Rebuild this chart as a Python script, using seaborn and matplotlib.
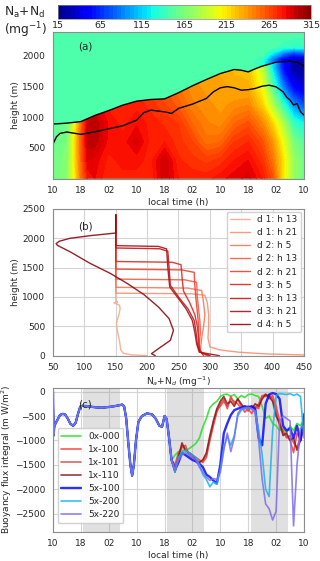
import numpy as np
import matplotlib
matplotlib.use("Agg")
import matplotlib.pyplot as plt
from matplotlib.patches import Polygon
import seaborn as sns

# ---------------- panel (a): Na+Nd field (mg-1) ----------------
# boundary-layer values, rows = bl_heights, columns = bl_hours (hours since 10 LT day 1)
bl_hours = [0, 4, 6, 8, 10, 12, 16, 20, 24, 28, 32, 36, 40, 44, 48, 52, 56, 60, 63, 66, 69, 72]
bl_heights = [0, 300, 600, 900, 1200, 1500, 1800, 2100]
bl_conc = [
    [160, 170, 205, 250, 280, 285, 275, 278, 278, 275, 295, 280, 278, 278, 283, 288, 292, 280, 262, 215, 175, 160],
    [160, 168, 210, 255, 290, 288, 278, 282, 282, 278, 295, 276, 272, 268, 272, 280, 285, 272, 250, 215, 175, 160],
    [158, 165, 210, 258, 298, 298, 283, 282, 292, 278, 280, 272, 265, 252, 255, 270, 275, 262, 240, 205, 165, 150],
    [155, 160, 200, 252, 295, 300, 284, 278, 284, 278, 274, 270, 255, 246, 242, 255, 262, 245, 220, 185, 140, 125],
    [150, 155, 190, 245, 285, 290, 278, 278, 278, 273, 265, 258, 246, 242, 238, 242, 245, 222, 185, 140, 95, 75],
    [150, 150, 180, 235, 278, 280, 274, 274, 274, 270, 260, 250, 242, 238, 237, 233, 232, 205, 150, 90, 50, 40],
    [150, 150, 170, 225, 268, 272, 266, 266, 266, 262, 252, 246, 238, 236, 233, 228, 226, 190, 120, 55, 25, 22],
    [150, 150, 170, 225, 268, 272, 266, 266, 266, 262, 252, 246, 238, 236, 233, 228, 226, 190, 120, 60, 35, 30],
]

# free troposphere values (above the inversion)
ft_hours = [0, 56, 60, 63, 66, 69, 72]
ft_heights = [0, 1700, 1850, 1950, 2050, 2150, 2400]
ft_conc = [
    [150, 150, 150, 150, 150, 150, 150],
    [150, 150, 135, 85, 45, 30, 30],
    [150, 150, 135, 85, 45, 30, 30],
    [150, 150, 140, 90, 50, 35, 35],
    [150, 150, 148, 125, 95, 75, 85],
    [150, 150, 150, 148, 142, 138, 138],
    [150, 150, 150, 150, 150, 150, 150],
]

# cloud top and cloud base lines (m)
top_hours = [0, 4, 8, 12, 16, 20, 24, 28, 32, 36, 40, 44, 48, 52, 54, 56, 58, 60, 64, 68, 70, 72]
top_height = [890, 905, 930, 1030, 1110, 1198, 1263, 1290, 1300, 1400, 1513, 1616, 1713, 1779,
              1767, 1740, 1790, 1833, 1898, 1914, 1897, 1843]
base_hours = [0, 1, 2, 4, 8, 12, 16, 20, 24, 26, 28, 32, 34, 36, 40, 44, 46, 48, 50, 52, 54,
              56, 58, 60, 62, 64, 66, 67, 68, 69, 70, 71, 72]
base_height = [564, 683, 738, 760, 722, 764, 813, 862, 954, 1073, 1117, 1089, 1063, 1145, 1215,
               1307, 1415, 1480, 1500, 1480, 1442, 1450, 1470, 1507, 1523, 1496, 1415, 1330,
               1280, 1200, 1225, 1090, 1036]

time_ticks = [0, 8, 16, 24, 32, 40, 48, 56, 64, 72]
time_labels = ["10", "18", "02", "10", "18", "02", "10", "18", "02", "10"]
cbar_ticks = [15, 65, 115, 165, 215, 265, 315]

# ---------------- panel (b): profiles (value, height) ----------------
profile_labels = ["d 1: h 13", "d 1: h 21", "d 2: h 5", "d 2: h 13", "d 2: h 21",
                  "d 3: h 5", "d 3: h 13", "d 3: h 21", "d 4: h 5"]
d1h13_val = [150, 150, 153, 147, 156, 157, 155, 151, 153, 156, 158, 162, 175, 200]
d1h13_z = [2400, 925, 915, 900, 860, 800, 700, 550, 400, 250, 100, 40, 15, 0]
d1h21_val = [150, 150, 270, 292, 296, 298, 298, 297, 300, 315, 345, 390, 450, 470]
d1h21_z = [2400, 1065, 1055, 1030, 900, 700, 500, 300, 150, 100, 60, 30, 12, 0]
d2h5_val = [150, 150, 265, 287, 290, 292, 290, 287, 285, 288, 300]
d2h5_z = [2400, 1165, 1152, 1110, 900, 700, 500, 300, 100, 40, 0]
d2h13_val = [150, 150, 260, 279, 280, 282, 284, 285, 283, 285, 295]
d2h13_z = [2400, 1305, 1292, 1250, 1000, 800, 600, 400, 200, 60, 0]
d2h21_val = [150, 150, 255, 275, 276, 278, 280, 282, 282, 285, 300]
d2h21_z = [2400, 1475, 1462, 1420, 1200, 950, 750, 500, 250, 60, 0]
d3h5_val = [150, 150, 240, 254, 256, 258, 268, 276, 280, 282, 283, 290]
d3h5_z = [2400, 1605, 1592, 1550, 1300, 1100, 900, 700, 500, 300, 100, 0]
d3h13_val = [150, 150, 220, 233, 235, 237, 250, 265, 275, 278, 280, 285, 300]
d3h13_z = [2400, 1835, 1822, 1780, 1500, 1200, 1000, 800, 600, 400, 200, 60, 0]
d3h21_val = [150, 150, 218, 231, 233, 236, 248, 262, 272, 276, 279, 283, 315]
d3h21_z = [2400, 1875, 1862, 1820, 1500, 1170, 1000, 800, 600, 400, 200, 60, 0]
d4h5_val = [150, 150, 109, 77, 60, 55, 57, 77, 109, 141, 168, 195, 218, 235, 242, 237, 218, 207, 213]
d4h5_z = [2400, 2090, 2045, 2000, 1950, 1910, 1880, 1772, 1574, 1404, 1233, 1040, 830, 631, 432,
          261, 119, 34, 0]

# ---------------- panel (c): buoyancy flux integral (m W/m2) ----------------
early_hours = [0, 0.15, 0.4, 1, 2, 2.8, 3.5, 4.3, 5, 5.8, 6.5, 7.2, 7.8, 8.5, 10, 12, 14, 16, 17.5,
               19, 19.8, 20.4, 21, 21.6, 22.2, 22.7, 23.2, 23.8, 24.5, 25.5, 27, 28.5, 29.5, 30.5,
               31.3, 32, 32.6, 33.3, 34]
early_flux = [0, -900, -700, -615, -480, -455, -470, -560, -660, -700, -640, -450, -310, -290, -300,
              -320, -330, -315, -300, -280, -265, -300, -550, -1050, -1500, -1720, -1500, -1000,
              -620, -500, -445, -470, -560, -700, -720, -500, -560, -950, -1400]
late_hours = list(range(35, 73))
flux_0x000 = [-1300, -1230, -1200, -1200, -1170, -1120, -1060, -950, -720, -550, -330, -250, -200,
              -100, -60, -50, -100, -60, -150, -80, -120, -60, -50, -80, -100, -300, -550, -500,
              -650, -700, -800, -750, -850, -700, -800, -650, -700, -550]
flux_1x100 = [-1550, -1300, -1100, -1200, -1250, -1300, -1350, -1400, -1450, -1350, -1000, -700,
              -420, -250, -150, -350, -100, -250, -150, -300, -420, -350, -450, -300, -350, -100,
              -50, -150, -80, -300, -600, -850, -900, -1000, -1250, -850, -1000, -500]
flux_1x101 = [-1500, -1250, -1150, -1100, -1300, -1350, -1400, -1450, -1400, -1300, -950, -650,
              -380, -300, -200, -300, -150, -200, -250, -350, -300, -400, -300, -350, -250, -80,
              -100, -60, -150, -400, -700, -800, -950, -900, -1050, -1150, -900, -600]
flux_1x110 = [-1650, -1350, -1050, -1200, -1250, -1300, -1400, -1450, -1400, -1250, -900, -600,
              -350, -200, -100, -250, -200, -300, -150, -250, -350, -300, -350, -250, -300, -150,
              -60, -100, -200, -500, -650, -900, -850, -1000, -950, -1200, -1000, -450]
flux_5x100 = [-1600, -1450, -1250, -1300, -1350, -1400, -1430, -1480, -1550, -1700, -1750, -1820,
              -1880, -1500, -850, -650, -480, -380, -350, -330, -300, -320, -300, -350, -950,
              -1100, -250, -60, -30, -50, -150, -700, -800, -750, -950, -700, -1000, -650]
flux_5x200 = [-1650, -1350, -1250, -1200, -1250, -1300, -1350, -1500, -1700, -1800, -1950, -1850,
              -1900, -1600, -1150, -900, -1100, -900, -500, -380, -350, -330, -350, -400, -800,
              -1300, -2000, -2150, -800, -80, -40, -50, -60, -40, -80, -50, -100, -950]
flux_5x220 = [-1600, -1400, -1300, -1250, -1300, -1350, -1400, -1550, -1650, -1750, -1820, -1780,
              -1800, -1650, -1200, -850, -1230, -950, -450, -350, -330, -320, -350, -420, -1000,
              -1800, -2300, -2400, -2630, -2450, -600, -500, -550, -600, -2750, -1500, -750, -700]
run_names = ["0x-000", "1x-100", "1x-101", "1x-110", "5x-100", "5x-200", "5x-220"]
run_colors = ["#22e022", "#ff3535", "#d24a4a", "#8e1616", "#0a0aff", "#12b4f0", "#7d6cf2"]
night_start = [8.7, 32.7, 56.9]
night_end = [19.2, 43.2, 67.3]

# ---------------- style ----------------
sns.set_style("whitegrid", {"axes.edgecolor": ".55", "grid.color": ".83"})
plt.rcParams["font.family"] = ["DejaVu Sans"]
plt.rcParams["font.size"] = 6.5
plt.rcParams["axes.labelsize"] = 6.5
plt.rcParams["xtick.labelsize"] = 6.5
plt.rcParams["ytick.labelsize"] = 6.5
plt.rcParams["axes.linewidth"] = 0.8
plt.rcParams["xtick.major.pad"] = 2
plt.rcParams["ytick.major.pad"] = 2
plt.rcParams["axes.labelpad"] = 2

fig = plt.figure(figsize=(3.2, 5.61), dpi=100)
levels = np.linspace(15, 315, 61)

# ---- (a)
ax_a = fig.add_axes([0.1656, 0.6815, 0.7844, 0.2615])
ax_a.contourf(ft_hours, ft_heights, ft_conc, levels=levels, cmap="jet")
cs = ax_a.contourf(bl_hours, bl_heights, bl_conc, levels=levels, cmap="jet")
clip = Polygon(np.column_stack([top_hours + [72, 0], top_height + [0, 0]]), closed=True,
               transform=ax_a.transData, facecolor="none", edgecolor="none")
ax_a.add_patch(clip)
cs.set_clip_path(clip)
ax_a.plot(top_hours, top_height, color="k", lw=1.0)
ax_a.plot(base_hours, base_height, color="k", lw=1.0)
ax_a.set_xlim(0, 72)
ax_a.set_ylim(0, 2390)
ax_a.set_xticks(time_ticks)
ax_a.set_xticklabels(time_labels)
ax_a.set_yticks([500, 1000, 1500, 2000])
ax_a.set_xlabel("local time (h)")
ax_a.set_ylabel("height (m)")
ax_a.grid(False)
ax_a.text(0.10, 0.88, "(a)", transform=ax_a.transAxes, fontsize=7.5)

cax = fig.add_axes([0.181, 0.966, 0.791, 0.025])
cb = fig.colorbar(cs, cax=cax, orientation="horizontal", ticks=cbar_ticks)
cb.outline.set_linewidth(0.5)
cax.tick_params(labelsize=6.8, length=0, pad=1.5)
fig.text(0.012, 0.991, "N$_\\mathrm{a}$+N$_\\mathrm{d}$\n(mg$^{-1}$)", fontsize=8.8,
         ha="left", va="top", linespacing=1.05)

# ---- (b)
ax_b = fig.add_axes([0.1656, 0.366, 0.7844, 0.2615])
prof_vals = [d1h13_val, d1h21_val, d2h5_val, d2h13_val, d2h21_val, d3h5_val, d3h13_val,
             d3h21_val, d4h5_val]
prof_z = [d1h13_z, d1h21_z, d2h5_z, d2h13_z, d2h21_z, d3h5_z, d3h13_z, d3h21_z, d4h5_z]
reds = sns.color_palette("Reds", 12)[3:]
for vals, zs, lab, col in zip(prof_vals, prof_z, profile_labels, reds):
    sns.lineplot(x=vals, y=zs, ax=ax_b, color=col, lw=1.0, alpha=0.9, label=lab,
                 sort=False, estimator=None, orient="y")
ax_b.set_xlim(50, 450)
ax_b.set_ylim(0, 2500)
ax_b.set_xticks(range(50, 451, 50))
ax_b.set_yticks(range(0, 2501, 500))
ax_b.set_xlabel("N$_a$+N$_d$ (mg$^{-1}$)")
ax_b.set_ylabel("height (m)")
ax_b.text(0.10, 0.86, "(b)", transform=ax_b.transAxes, fontsize=7.5)
ax_b.legend(loc="upper right", fontsize=6.5, handlelength=2.2, borderpad=0.4,
            labelspacing=0.45, handletextpad=0.8, borderaxespad=0.3, framealpha=0.9)

# ---- (c)
ax_c = fig.add_axes([0.1656, 0.0522, 0.7844, 0.2567])
for s, e in zip(night_start, night_end):
    ax_c.axvspan(s, e, color="0.6", alpha=0.3, lw=0)
runs = [flux_0x000, flux_1x100, flux_1x101, flux_1x110, flux_5x100, flux_5x200, flux_5x220]
for name, late, col in zip(run_names, runs, run_colors):
    lw = 1.7 if name == "5x-100" else 1.2
    sns.lineplot(x=early_hours + late_hours, y=early_flux + late, ax=ax_c, color=col, lw=lw,
                 alpha=0.85, label=name, sort=False, estimator=None)
ax_c.set_xlim(0, 72)
ax_c.set_ylim(-2870, 80)
ax_c.set_xticks(time_ticks)
ax_c.set_xticklabels(time_labels)
ax_c.set_yticks([0, -500, -1000, -1500, -2000, -2500])
ax_c.set_xlabel("local time (h)")
ax_c.set_ylabel("Buoyancy flux integral (m W/m$^2$)", labelpad=0.5)
ax_c.text(0.10, 0.86, "(c)", transform=ax_c.transAxes, fontsize=7.5)
ax_c.legend(loc="lower left", bbox_to_anchor=(0.0, 0.03), fontsize=6.5, handlelength=2.2,
            borderpad=0.4, labelspacing=0.45, handletextpad=0.8, framealpha=0.9)

fig.savefig("out.png", dpi=100)
